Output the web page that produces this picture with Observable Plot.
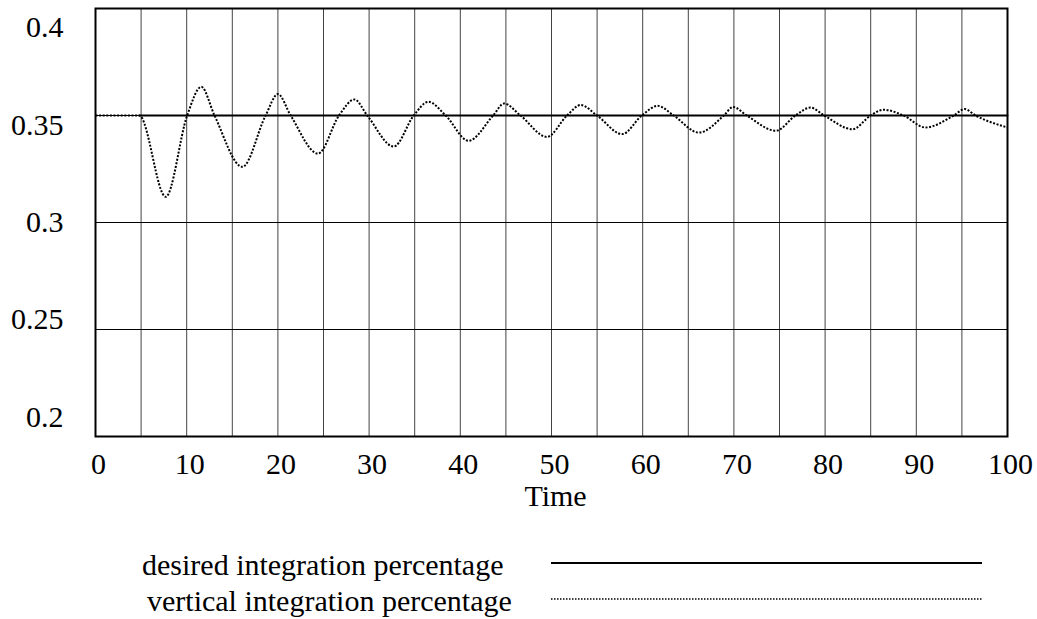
<!DOCTYPE html>
<html>
<head>
<meta charset="utf-8">
<script src="https://cdn.jsdelivr.net/npm/d3@7"></script>
<script src="https://cdn.jsdelivr.net/npm/@observablehq/plot@0.6"></script>
<style>
  html, body { margin: 0; padding: 0; background: #fff; }
  #chart svg { display: block; }
  #legend { display: block; }
</style>
</head>
<body>
<div id="chart"></div>
<script>
// ---- data ----
const time = [0, 4.8, 7.7, 10.05, 11.6, 13.05, 16.1, 18.65, 20.0, 21.4, 24.4, 26.7, 28.4, 29.8,
  32.7, 34.9, 36.5, 38.4, 40.9, 43.6, 44.8, 46.6, 49.5, 51.7, 53.2, 55.0, 57.75, 59.9, 61.65,
  63.4, 66.15, 68.9, 69.9, 71.4, 74.6, 76.75, 78.4, 79.9, 83.0, 85.0, 86.4, 88.6, 91.0, 94.1,
  95.3, 96.5, 100];
const verticalIntegration = [0.35, 0.35, 0.312, 0.35, 0.3634, 0.35, 0.326, 0.35, 0.360, 0.35,
  0.3322, 0.35, 0.3575, 0.35, 0.3355, 0.35, 0.3564, 0.35, 0.3382, 0.35, 0.3556, 0.35, 0.340,
  0.35, 0.3549, 0.35, 0.3413, 0.35, 0.3545, 0.35, 0.342, 0.35, 0.354, 0.35, 0.3429, 0.35,
  0.3537, 0.35, 0.3436, 0.35, 0.3527, 0.35, 0.3444, 0.35, 0.353, 0.35, 0.3444];
const desiredTime = [4.8, 100];
const desiredIntegration = [0.35, 0.35];
const xTickLabels = [0, 10, 20, 30, 40, 50, 60, 70, 80, 90, 100];
const yTickLabels = [0.2, 0.25, 0.3, 0.35, 0.4];
const xGrid = [5, 10, 15, 20, 25, 30, 35, 40, 45, 50, 55, 60, 65, 70, 75, 80, 85, 90, 95];
const yGrid = [0.25, 0.3, 0.35];
const seriesNames = ["desired integration percentage", "vertical integration percentage"];

const vertical = time.map((t, i) => ({t, v: verticalIntegration[i]}));
const desired = desiredTime.map((t, i) => ({t, v: desiredIntegration[i]}));

const font = "'Liberation Serif', 'Times New Roman', serif";

const chart = Plot.plot({
  width: 1037,
  height: 525,
  marginLeft: 95,
  marginRight: 30,
  marginTop: 8,
  marginBottom: 89,
  style: {fontFamily: font, background: "#fff", color: "#000"},
  x: {domain: [0, 100], axis: null},
  y: {domain: [0.2, 0.4], axis: null},
  marks: [
    Plot.ruleX(xGrid, {stroke: "#444", strokeWidth: 1}),
    Plot.ruleY(yGrid, {stroke: "#000", strokeWidth: 1}),
    Plot.line(desired, {x: "t", y: "v", stroke: "#000", strokeWidth: 2}),
    Plot.line(vertical, {x: "t", y: "v", curve: "monotone-x", stroke: "#000",
      strokeWidth: 2, strokeDasharray: "2,1.6", strokeLinecap: "butt"}),
    Plot.frame({stroke: "#000", strokeWidth: 2}),
    Plot.text(xTickLabels, {x: d => d, text: d => String(d), frameAnchor: "bottom",
      lineAnchor: "top", dy: 16, dx: 3, fontSize: 30, fill: "#000"}),
    Plot.text(["Time"], {frameAnchor: "bottom", lineAnchor: "top", dy: 48, dx: 4,
      fontSize: 30, fill: "#000"}),
    Plot.text(yTickLabels, {y: d => 0.3 + (d - 0.3) * 0.91, text: d => String(d),
      frameAnchor: "left", textAnchor: "end", dx: -32, fontSize: 30, fill: "#000"})
  ]
});
document.getElementById("chart").appendChild(chart);

// ---- legend below the plot ----
const legend = d3.select("body").append("svg")
  .attr("id", "legend")
  .attr("width", 1037)
  .attr("height", 94)
  .style("font-family", font);
const styles = [
  {dash: null, width: 2},
  {dash: "1.5,1.5", width: 1.5}
];
seriesNames.forEach((name, i) => {
  const yLine = 38 + i * 36;
  legend.append("text")
    .attr("x", 142 + i * 5)
    .attr("y", yLine + 12)
    .attr("font-size", 30)
    .attr("fill", "#000")
    .text(name);
  legend.append("line")
    .attr("x1", 551).attr("x2", 982)
    .attr("y1", yLine).attr("y2", yLine)
    .attr("stroke", "#000")
    .attr("stroke-width", styles[i].width)
    .attr("stroke-dasharray", styles[i].dash);
});
</script>
</body>
</html>
